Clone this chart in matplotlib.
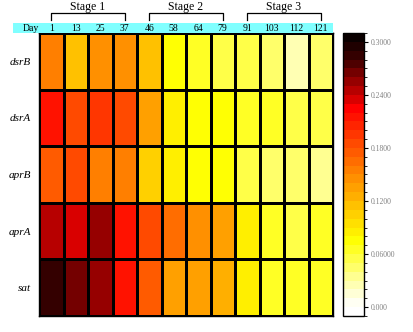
import numpy as np
import matplotlib
matplotlib.use("Agg")
import matplotlib.pyplot as plt
from matplotlib.colors import LinearSegmentedColormap, ListedColormap, BoundaryNorm
from matplotlib.patches import Rectangle

days = [1, 13, 25, 37, 46, 58, 64, 79, 91, 103, 112, 121]
genes = ["dsrB", "dsrA", "aprB", "aprA", "sat"]
stages = ["Stage 1", "Stage 2", "Stage 3"]

dsrB = [0.155, 0.110, 0.145, 0.140, 0.115, 0.075, 0.060, 0.058, 0.050, 0.040, 0.025, 0.040]
dsrA = [0.210, 0.180, 0.195, 0.180, 0.135, 0.085, 0.075, 0.070, 0.060, 0.062, 0.055, 0.050]
aprB = [0.170, 0.180, 0.150, 0.155, 0.100, 0.085, 0.075, 0.072, 0.058, 0.040, 0.040, 0.030]
aprA = [0.240, 0.230, 0.250, 0.215, 0.185, 0.160, 0.140, 0.130, 0.085, 0.060, 0.058, 0.060]
sat = [0.280, 0.265, 0.250, 0.215, 0.170, 0.130, 0.130, 0.125, 0.085, 0.068, 0.068, 0.062]

values = np.array([dsrB, dsrA, aprB, aprA, sat])

W, H = 413, 332
serif = "Liberation Serif"

# colour scale: white -> yellow -> orange -> red -> black, in 0.01 steps
lo, hi = -0.01, 0.31
anchors = [(0.0, "#ffffff"), (0.01, "#ffffe6"), (0.075, "#ffff00"),
           (0.155, "#ff8000"), (0.225, "#ff0000"), (0.25, "#a80000"),
           (0.28, "#400000"), (0.31, "#000000")]
smooth = LinearSegmentedColormap.from_list(
    "wyrk", [(v / hi, c) for v, c in anchors])
bounds = np.round(np.arange(lo, hi + 0.001, 0.01), 3)
centers = (bounds[:-1] + bounds[1:]) / 2
cmap = ListedColormap([smooth(max(c, 0) / hi) for c in centers])
norm = BoundaryNorm(bounds, cmap.N)


def box(x0, y0, x1, y1):
    return [x0 / W, 1 - y1 / H, (x1 - x0) / W, (y1 - y0) / H]


fig = plt.figure(figsize=(W / 100, H / 100), dpi=100)

ax = fig.add_axes(box(39, 33, 333, 316))
ax.pcolormesh(np.arange(13), np.arange(6), values, cmap=cmap, norm=norm,
              edgecolors="black", linewidth=0.75)
ax.set_xlim(0, 12)
ax.set_ylim(5, 0)
ax.set_xticks([])
ax.set_yticks(np.arange(5) + 0.5)
ax.set_yticklabels(genes, family=serif, style="italic", fontsize=8)
ax.tick_params(axis="y", length=0, pad=6)
for s in ax.spines.values():
    s.set_linewidth(1.0)

# cyan header with the days
x_start = -(39 - 13) / ((333 - 39) / 12)
hx = fig.add_axes(box(13, 23, 333, 33))
hx.set_xlim(x_start, 12)
hx.set_ylim(0, 1)
hx.axis("off")
hx.add_patch(Rectangle((x_start, 0), 12 - x_start, 1, color="#80ffff"))
hx.text(x_start + 0.4, 0.45, "Day", family=serif, fontsize=7, ha="left", va="center")
for i, d in enumerate(days):
    hx.text(i + 0.5, 0.45, str(d), family=serif, fontsize=7, ha="center", va="center")

# stage brackets
bx = fig.add_axes(box(13, 0, 333, 23))
bx.set_xlim(x_start, 12)
bx.set_ylim(23, 0)
bx.axis("off")
for k, name in enumerate(stages):
    a, b = 4 * k + 0.5, 4 * k + 3.5
    bx.plot([a, a, b, b], [20, 13, 13, 20], color="black", lw=0.9)
    bx.text((a + b) / 2, 7, name, family=serif, fontsize=8.5, ha="center", va="center")

# colour bar
cx = fig.add_axes(box(343, 33, 364, 316))
cb = fig.colorbar(plt.cm.ScalarMappable(norm=norm, cmap=cmap), cax=cx,
                  boundaries=bounds, ticks=[0, 0.06, 0.12, 0.18, 0.24, 0.30])
cb.set_ticklabels(["0.000", "0.06000", "0.1200", "0.1800", "0.2400", "0.3000"])
cb.outline.set_linewidth(1.0)
cx.tick_params(length=3, width=0.8, labelsize=5.5, labelcolor="#808080", pad=2)
for t in cx.get_yticklabels():
    t.set_family(serif)

fig.savefig("out.png", dpi=100)
